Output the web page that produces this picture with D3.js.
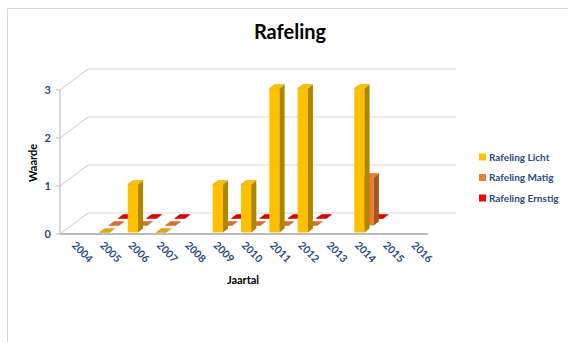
<!DOCTYPE html>
<html>
<head>
<meta charset="utf-8">
<script src="https://cdn.jsdelivr.net/npm/d3@7"></script>
<style>
  html, body { margin: 0; padding: 0; background: #fff; }
  svg { display: block; font-family: Lato, "Open Sans", sans-serif; }
</style>
</head>
<body>
<svg id="chart" width="568" height="342"></svg>
<script>
// ---- data ----
const categories = ["2004","2005","2006","2007","2008","2009","2010","2011","2012","2013","2014","2015","2016"];
const seriesNames = ["Rafeling Licht", "Rafeling Matig", "Rafeling Ernstig"];
const licht   = [null, 0, 1, 0, null, 1, 1, 3, 3, null, 3, null, null];
const matig   = [null, 0, 0, 0, null, 0, 0, 0, 0, null, 1, null, null];
const ernstig = [null, 0, 0, 0, null, 0, 0, 0, 0, null, 0, null, null];
const yTicks = [0, 1, 2, 3];
const seriesValues = [licht, matig, ernstig];

const colors = {
  "Rafeling Licht":   {front: "#FFC000", side: "#B08600", top: "#E0A810", legend: "#FFC000"},
  "Rafeling Matig":   {front: "#ED7D31", side: "#A6561F", top: "#D8702C", legend: "#ED7D31"},
  "Rafeling Ernstig": {front: "#FF0000", side: "#B00000", top: "#D80000", legend: "#FF0000"}
};

const svg = d3.select("#chart");

// chart frame (only top & left edges visible)
svg.append("path").attr("d", "M7.5,342 L7.5,8.5 L568,8.5")
  .attr("fill", "none").attr("stroke", "#d9d9d9").attr("stroke-width", 1);

// scales
const x = d3.scaleBand().domain(categories).range([60, 428]);
const y = d3.scaleLinear().domain([0, 3]).range([234, 90]);
const depthX = d3.scaleLinear().domain([0, 1]).range([0, 28]);
const depthY = d3.scaleLinear().domain([0, 1]).range([0, -21]);
const depthRow = d3.scaleBand().domain(seriesNames).range([0, 1]);

const x0 = x.range()[0], x1 = x.range()[1];
const gridColor = "#d9d9d9";

// back wall gridlines + left wall diagonals + left vertical
const grid = svg.append("g");
yTicks.forEach(t => {
  const yf = y(t), yb = y(t) + depthY(1);
  grid.append("line").attr("x1", x0 + depthX(1)).attr("x2", x1 + depthX(1))
    .attr("y1", yb).attr("y2", yb).attr("stroke", gridColor).attr("stroke-width", 1.2);
  grid.append("line").attr("x1", x0).attr("x2", x0 + depthX(1))
    .attr("y1", yf).attr("y2", yb).attr("stroke", gridColor).attr("stroke-width", 1.2);
});
// left vertical axis line (front)
grid.append("line").attr("x1", x0).attr("x2", x0).attr("y1", y(3)).attr("y2", y(0))
  .attr("stroke", "#bfbfbf").attr("stroke-width", 1.2);
// y ticks
yTicks.forEach(t => {
  grid.append("line").attr("x1", x0 - 4).attr("x2", x0).attr("y1", y(t)).attr("y2", y(t))
    .attr("stroke", "#bfbfbf").attr("stroke-width", 1);
});

// bars (painter's order: back rows first)
const barsG = svg.append("g");
const barW = x.bandwidth() * 0.36;
const barDepth = depthRow.bandwidth() * 0.55;
[...seriesNames].reverse().forEach(name => {
  const idx = seriesNames.indexOf(name);
  const vals = seriesValues[idx];
  const c = colors[name];
  const d0 = depthRow(name) + (depthRow.bandwidth() - barDepth) / 2;
  const ddx = depthX(barDepth), ddy = depthY(barDepth);
  categories.forEach((cat, i) => {
    const v = vals[i];
    if (v === null) return;
    const cx = x(cat) + x.bandwidth() / 2 + depthX(d0);
    const xl = cx - barW / 2, xr = cx + barW / 2;
    const yb = y(0) + depthY(d0), yt = y(v) + depthY(d0);
    const g = barsG.append("g");
    if (v > 0) {
      g.append("polygon").attr("points", [[xl,yb],[xr,yb],[xr,yt],[xl,yt]].join(" "))
        .attr("fill", c.front);
      g.append("polygon").attr("points", [[xr,yb],[xr+ddx,yb+ddy],[xr+ddx,yt+ddy],[xr,yt]].join(" "))
        .attr("fill", c.side);
    }
    g.append("polygon").attr("points", [[xl,yt],[xr,yt],[xr+ddx,yt+ddy],[xl+ddx,yt+ddy]].join(" "))
      .attr("fill", v > 0 ? c.front : c.top)
      .attr("stroke", c.top).attr("stroke-width", 0.6);
  });
});

// floor front edge
svg.append("line").attr("x1", x0).attr("x2", x1).attr("y1", y(0)).attr("y2", y(0))
  .attr("stroke", "#a6a6a6").attr("stroke-width", 1.3);

// y tick labels
const axisColor = "#2B4C7E";
svg.append("g").selectAll("text").data(yTicks).join("text")
  .attr("x", 51).attr("y", d => y(d)).attr("dy", "0.35em")
  .attr("text-anchor", "end").attr("font-size", 11).attr("font-weight", "bold")
  .attr("fill", axisColor).text(d => d);

// x tick labels rotated
svg.append("g").selectAll("text").data(categories).join("text")
  .attr("transform", d => `translate(${x(d) + x.bandwidth() / 2 - 3},${y(0) + 12}) rotate(45)`)
  .attr("text-anchor", "start").attr("font-size", 10.5).attr("font-weight", "bold")
  .attr("fill", axisColor).text(d => d);

// axis titles
svg.append("text").attr("x", 243).attr("y", 284).attr("text-anchor", "middle")
  .attr("font-size", 11).attr("font-weight", "bold").attr("fill", "#000").text("Jaartal");
svg.append("text").attr("transform", "translate(37,163) rotate(-90)").attr("text-anchor", "middle")
  .attr("font-size", 11).attr("font-weight", "bold").attr("fill", "#000").text("Waarde");

// title
svg.append("text").attr("x", 290).attr("y", 39).attr("text-anchor", "middle")
  .attr("font-size", 20).attr("font-weight", "bold").attr("fill", "#000").text("Rafeling");

// legend
const legend = svg.append("g").attr("transform", "translate(479,157)");
const lg = legend.selectAll("g").data(seriesNames).join("g")
  .attr("transform", (d, i) => `translate(0,${i * 20.5})`);
lg.append("rect").attr("x", 0).attr("y", -3.5).attr("width", 7).attr("height", 7)
  .attr("fill", d => colors[d].legend);
lg.append("text").attr("x", 10).attr("y", 0).attr("dy", "0.35em")
  .attr("font-size", 10).attr("font-weight", "bold").attr("fill", axisColor).text(d => d);
</script>
</body>
</html>
